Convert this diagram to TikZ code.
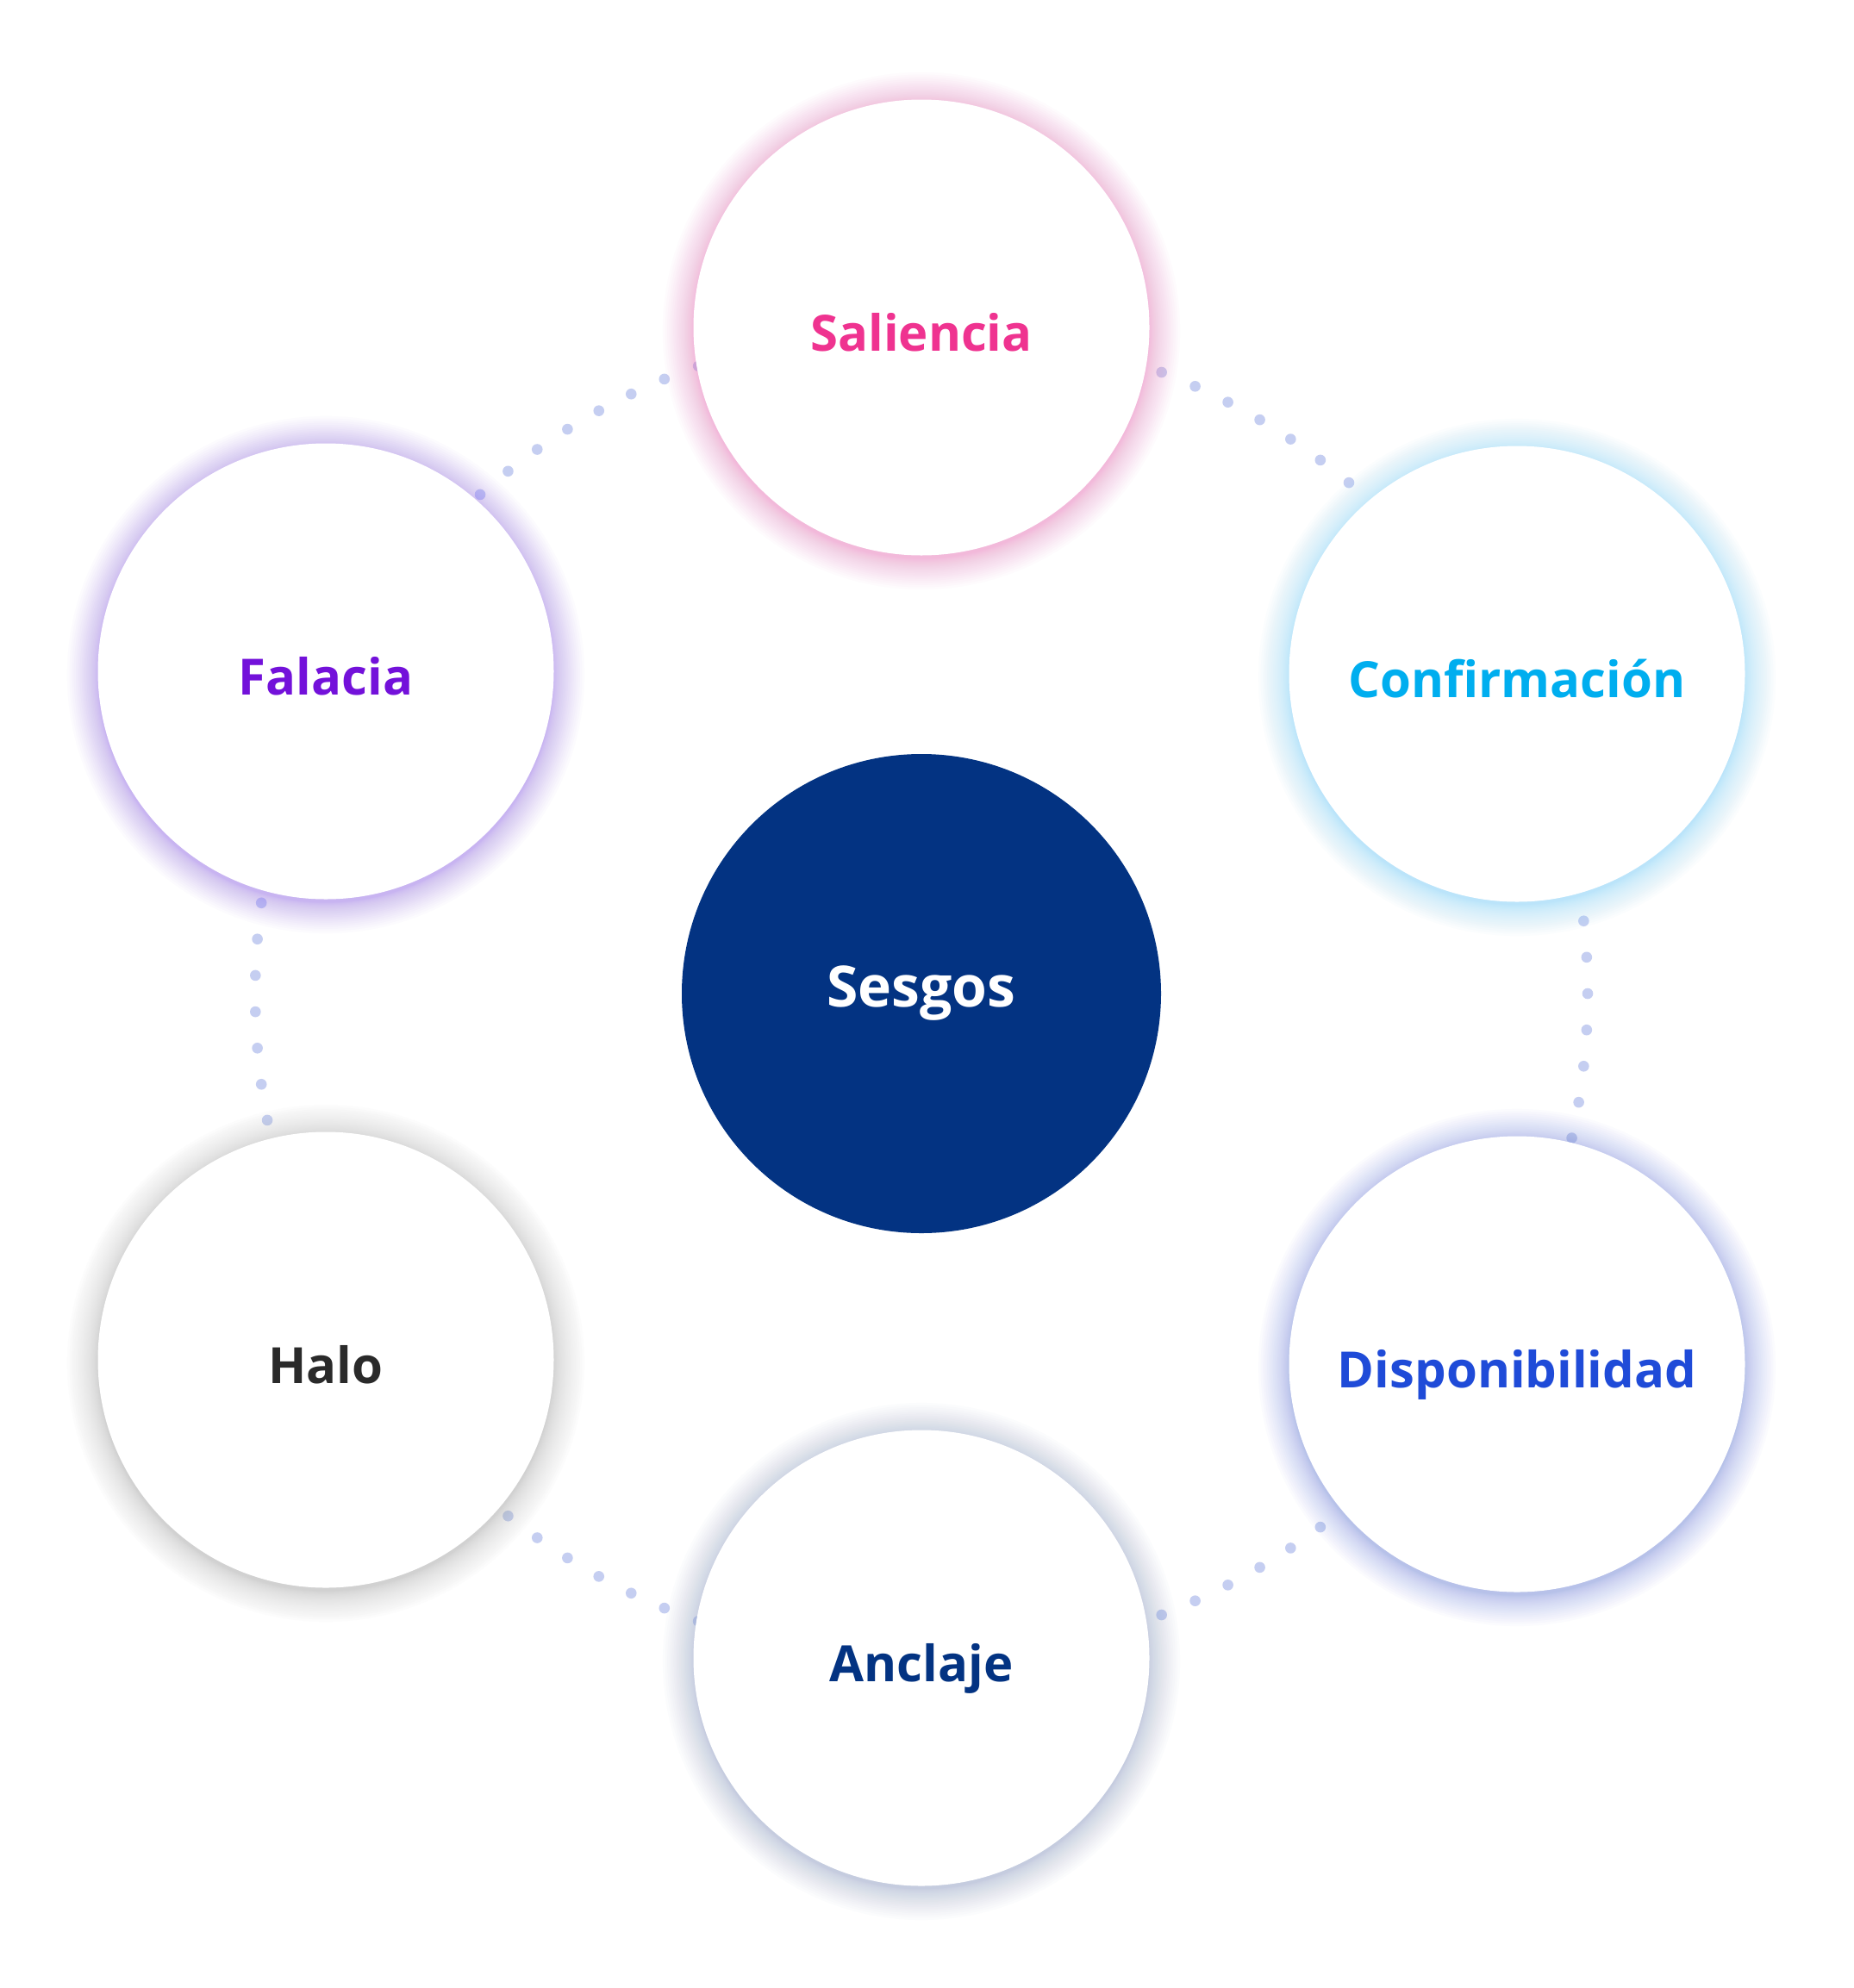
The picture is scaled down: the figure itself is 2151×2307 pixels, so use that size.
\documentclass[tikz,border=0pt]{standalone}
\usepackage{fontspec}
\setmainfont{Open Sans}
\definecolor{hubblue}{RGB}{3,51,130}
\definecolor{dotcol}{RGB}{197,206,241}
\definecolor{salT}{RGB}{239,51,144}
\definecolor{salG}{RGB}{242,120,190}
\definecolor{conT}{RGB}{0,174,239}
\definecolor{conG}{RGB}{125,210,250}
\definecolor{disT}{RGB}{31,75,216}
\definecolor{disG}{RGB}{115,135,228}
\definecolor{ancT}{RGB}{3,51,130}
\definecolor{ancG}{RGB}{145,162,200}
\definecolor{halT}{RGB}{42,42,42}
\definecolor{halG}{RGB}{175,175,175}
\definecolor{falT}{RGB}{115,17,218}
\definecolor{falG}{RGB}{150,110,241}
\tikzset{
  sat/.style={circle, fill=white, inner sep=0pt, minimum size=529pt,
    font=\fontsize{58}{68}\selectfont\bfseries, text height=55pt, text depth=0pt},
  hub/.style={circle, fill=hubblue, text=white, inner sep=0pt, minimum size=556pt,
    font=\fontsize{66}{78}\selectfont\bfseries, text height=30pt, text depth=0pt},
  ringdot/.style={fill=dotcol}
}
\newcommand{\glowat}[2]{%
  \foreach \k in {1,...,22}{\fill[#2,opacity=0.028] ([yshift=-4pt]#1) circle ({264+0.22*\k^1.65});}}
\begin{document}
\begin{tikzpicture}[x=1pt,y=-1pt]
\fill[white] (0,0) rectangle (2151,2307);
\useasboundingbox (0,0) rectangle (2151,2307);
\coordinate (cSes) at (1069,1153);
\coordinate (cSal) at (1069,380);
\coordinate (cCon) at (1760,782);
\coordinate (cDis) at (1760,1583);
\coordinate (cAnc) at (1069,1924);
\coordinate (cHal) at (378,1578);
\coordinate (cFal) at (378,779);
% dotted ring round the hub
\foreach \k in {0,...,114}{%
  \pgfmathsetmacro{\dx}{773*cos(\k*3.130435)}%
  \pgfmathsetmacro{\dy}{773*sin(\k*3.130435)}%
  \fill[ringdot] ([xshift=\dx pt, yshift=\dy pt]cSes) circle (6.3);}
% glows
\glowat{cSal}{salG}
\glowat{cCon}{conG}
\glowat{cDis}{disG}
\glowat{cAnc}{ancG}
\glowat{cHal}{halG}
\glowat{cFal}{falG}
% nodes
\node[hub] (ses) at (cSes) {Sesgos};
\node[sat, text=salT] (sal) at (cSal) {Saliencia};
\node[sat, text=conT] (con) at (cCon) {Confirmación};
\node[sat, text=disT] (dis) at (cDis) {Disponibilidad};
\node[sat, text=ancT] (anc) at (cAnc) {Anclaje};
\node[sat, text=halT] (hal) at (cHal) {Halo};
\node[sat, text=falT] (fal) at (cFal) {Falacia};
\end{tikzpicture}
\end{document}
